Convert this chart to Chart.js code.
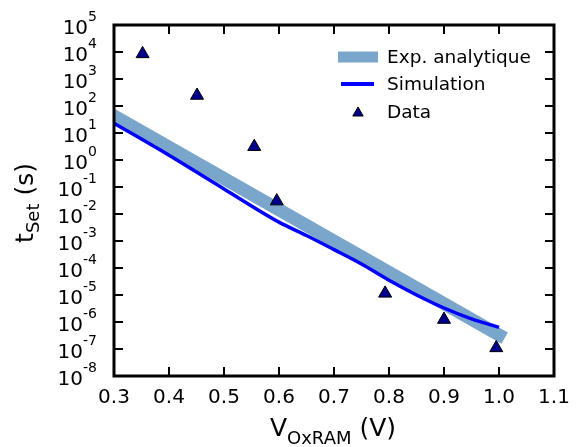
<!DOCTYPE html>
<html>
<head>
<meta charset="utf-8">
<script src="https://cdn.jsdelivr.net/npm/chart.js@4.4.0/dist/chart.umd.min.js"></script>
<style>
  html, body { margin: 0; padding: 0; background: #fff; }
  #wrap { width: 584px; height: 447px; }
</style>
</head>
<body>
<div id="wrap"><canvas id="chart" width="584" height="447"></canvas></div>
<script>
// axis ticks
const xTicks = [0.3, 0.4, 0.5, 0.6, 0.7, 0.8, 0.9, 1.0, 1.1];
const yExponents = [-8, -7, -6, -5, -4, -3, -2, -1, 0, 1, 2, 3, 4, 5];

// Exp. analytique (straight line on the log axis)
const expV = [0.3, 1.0];
const expT = [43, 3.3e-7];

// Simulation
const simV = [0.30, 0.40, 0.50, 0.60, 0.65, 0.70, 0.75, 0.80, 0.85, 0.90, 0.95, 1.00];
const simT = [23, 1.5, 0.085, 5.0e-3, 1.6e-3, 4.8e-4, 1.4e-4, 3.5e-5, 1.0e-5, 3.3e-6, 1.3e-6, 6.3e-7];

// Data
const dataV = [0.352, 0.451, 0.555, 0.596, 0.793, 0.900, 0.995];
const dataT = [8.5e3, 245, 3.1, 0.030, 1.15e-5, 1.23e-6, 1.1e-7];

const legendLabels = ["Exp. analytique", "Simulation", "Data"];

const FONT = "'DejaVu Sans'";
const BAND = "#7aa6cc";
const SIM = "#0000ff";
const NAVY = "#00008b";

const toXY = (xs, ys) => xs.map((x, i) => ({ x, y: ys[i] }));

function drawTriangle(ctx, x, y, r) {
  ctx.beginPath();
  ctx.moveTo(x, y - r);
  ctx.lineTo(x - r * 0.866, y + r * 0.5);
  ctx.lineTo(x + r * 0.866, y + r * 0.5);
  ctx.closePath();
  ctx.fillStyle = NAVY;
  ctx.fill();
  ctx.lineWidth = 1;
  ctx.strokeStyle = "#000";
  ctx.stroke();
}

const framePlugin = {
  id: "frame",
  afterDraw(chart) {
    const ctx = chart.ctx;
    const a = chart.chartArea;
    const xs = chart.scales.x;
    const ys = chart.scales.y;
    ctx.save();

    // inward ticks on all four sides
    ctx.strokeStyle = "#000";
    ctx.lineWidth = 2;
    ctx.beginPath();
    xTicks.forEach(v => {
      const px = Math.round(xs.getPixelForValue(v));
      ctx.moveTo(px, a.bottom); ctx.lineTo(px, a.bottom - 9);
      ctx.moveTo(px, a.top); ctx.lineTo(px, a.top + 9);
    });
    yExponents.forEach(e => {
      const py = Math.round(ys.getPixelForValue(Math.pow(10, e)));
      ctx.moveTo(a.left, py); ctx.lineTo(a.left + 9, py);
      ctx.moveTo(a.right, py); ctx.lineTo(a.right - 9, py);
    });
    ctx.stroke();

    // spines
    ctx.lineWidth = 3;
    ctx.strokeRect(a.left, a.top, a.right - a.left, a.bottom - a.top);

    // y tick labels with superscript
    ctx.fillStyle = "#000";
    ctx.textAlign = "left";
    ctx.textBaseline = "alphabetic";
    yExponents.forEach(e => {
      const py = ys.getPixelForValue(Math.pow(10, e));
      const sup = String(e);
      ctx.font = "14px " + FONT;
      const wSup = ctx.measureText(sup).width;
      ctx.font = "20px " + FONT;
      const wBase = ctx.measureText("10").width;
      const right = 97;
      ctx.fillText("10", right - wSup - wBase, py + 8.5);
      ctx.font = "14px " + FONT;
      ctx.fillText(sup, right - wSup, py - 4);
    });

    // x axis title: V_OxRAM (V)
    ctx.font = "25px " + FONT;
    const wV = ctx.measureText("V").width;
    const wUnit = ctx.measureText(" (V)").width;
    ctx.font = "18px " + FONT;
    const wSub = ctx.measureText("OxRAM").width;
    let x0 = 333 - (wV + wSub + wUnit) / 2;
    ctx.font = "25px " + FONT;
    ctx.fillText("V", x0, 436);
    ctx.font = "18px " + FONT;
    ctx.fillText("OxRAM", x0 + wV, 444);
    ctx.font = "25px " + FONT;
    ctx.fillText(" (V)", x0 + wV + wSub, 436);

    // y axis title: t_Set (s)
    ctx.save();
    ctx.translate(33, 203);
    ctx.rotate(-Math.PI / 2);
    ctx.font = "25px " + FONT;
    const wT = ctx.measureText("t").width;
    const wS = ctx.measureText(" (s)").width;
    ctx.font = "18px " + FONT;
    const wSet = ctx.measureText("Set").width;
    let y0 = -(wT + wSet + wS) / 2;
    ctx.font = "25px " + FONT;
    ctx.fillText("t", y0, 0);
    ctx.font = "18px " + FONT;
    ctx.fillText("Set", y0 + wT, 6);
    ctx.font = "25px " + FONT;
    ctx.fillText(" (s)", y0 + wT + wSet, 0);
    ctx.restore();

    // legend
    const rows = [57, 84, 112];
    ctx.lineCap = "butt";
    ctx.strokeStyle = BAND;
    ctx.lineWidth = 11;
    ctx.beginPath(); ctx.moveTo(338, rows[0]); ctx.lineTo(378, rows[0]); ctx.stroke();
    ctx.strokeStyle = SIM;
    ctx.lineWidth = 4;
    ctx.beginPath(); ctx.moveTo(341, rows[1]); ctx.lineTo(374, rows[1]); ctx.stroke();
    drawTriangle(ctx, 358, rows[2] + 1, 6);
    ctx.fillStyle = "#000";
    ctx.font = "18.5px " + FONT;
    ctx.textBaseline = "middle";
    legendLabels.forEach((t, i) => ctx.fillText(t, 387, rows[i] + 1));

    ctx.restore();
  }
};

new Chart(document.getElementById("chart"), {
  type: "scatter",
  data: {
    datasets: [
      {
        label: legendLabels[2],
        data: toXY(dataV, dataT),
        pointStyle: "triangle",
        pointRadius: 7.5,
        backgroundColor: NAVY,
        borderColor: "#000",
        borderWidth: 1,
        order: 0
      },
      {
        label: legendLabels[1],
        type: "line",
        data: toXY(simV, simT),
        showLine: true,
        borderColor: SIM,
        borderWidth: 3.5,
        pointRadius: 0,
        cubicInterpolationMode: "monotone",
        fill: false,
        order: 1
      },
      {
        label: legendLabels[0],
        type: "line",
        data: toXY(expV, expT),
        showLine: true,
        borderColor: BAND,
        borderWidth: 13,
        borderCapStyle: "square",
        pointRadius: 0,
        fill: false,
        order: 2
      }
    ]
  },
  options: {
    responsive: false,
    animation: false,
    devicePixelRatio: 1,
    layout: { padding: { left: 0, top: 25, right: 30, bottom: 0 } },
    plugins: {
      legend: { display: false },
      tooltip: { enabled: false }
    },
    scales: {
      x: {
        type: "linear",
        min: 0.3,
        max: 1.1,
        grid: { display: false },
        border: { display: false },
        afterBuildTicks: s => { s.ticks = xTicks.map(v => ({ value: v })); },
        afterFit: s => { s.height = 71; },
        ticks: {
          padding: 2,
          color: "#000",
          font: { family: "DejaVu Sans", size: 20 },
          maxRotation: 0,
          callback: v => Number(v).toFixed(1)
        }
      },
      y: {
        type: "logarithmic",
        min: 1e-8,
        max: 1e5,
        grid: { display: false },
        border: { display: false },
        afterBuildTicks: s => { s.ticks = yExponents.map(e => ({ value: Math.pow(10, e) })); },
        afterFit: s => { s.width = 114; },
        ticks: { display: false }
      }
    }
  },
  plugins: [framePlugin]
});
</script>
</body>
</html>
